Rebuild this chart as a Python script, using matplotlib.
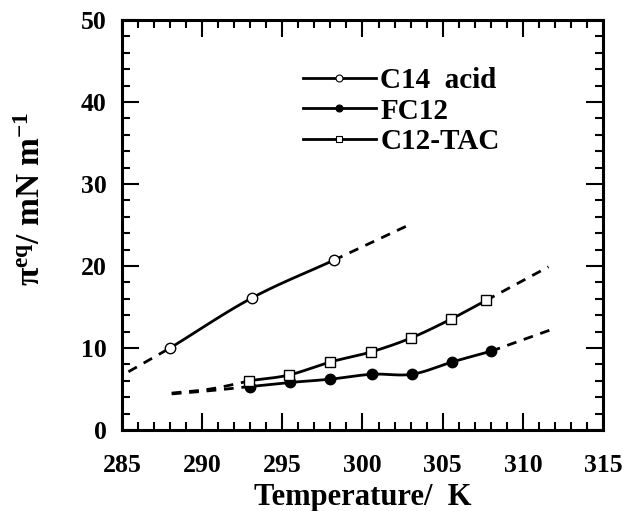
import numpy as np
import matplotlib
matplotlib.use("Agg")
import matplotlib.pyplot as plt
from matplotlib.ticker import MultipleLocator

# measured points
c14_T = [288.0, 293.1, 298.2]
c14_pi = [10.0, 16.1, 20.7]
fc12_T = [293.0, 295.5, 298.0, 300.6, 303.1, 305.6, 308.0]
fc12_pi = [5.3, 5.8, 6.2, 6.8, 6.8, 8.3, 9.6]
tac_T = [292.9, 295.4, 298.0, 300.5, 303.0, 305.5, 307.7]
tac_pi = [6.0, 6.7, 8.3, 9.5, 11.2, 13.5, 15.8]

# dashed extrapolations
c14_lo_T = [285.4, 288.0]
c14_lo_pi = [7.1, 10.0]
c14_hi_T = [298.2, 303.0]
c14_hi_pi = [20.7, 25.1]
fc12_lo_T = [288.1, 290.5, 293.0]
fc12_lo_pi = [4.4, 4.8, 5.3]
fc12_hi_T = [308.0, 312.0]
fc12_hi_pi = [9.6, 12.4]
tac_lo_T = [288.1, 290.5, 293.0]
tac_lo_pi = [4.5, 5.0, 6.0]
tac_hi_T = [307.7, 311.6]
tac_hi_pi = [15.8, 19.9]

labels = ["C14  acid", "FC12", "C12-TAC"]


def smooth(x, y, n=25):
    """Catmull-Rom curve through the given points."""
    p = np.column_stack([x, y]).astype(float)
    if len(p) < 3:
        return p[:, 0], p[:, 1]
    p = np.vstack([2 * p[0] - p[1], p, 2 * p[-1] - p[-2]])
    out = []
    t = np.linspace(0, 1, n)[:, None]
    for i in range(1, len(p) - 2):
        p0, p1, p2, p3 = p[i - 1], p[i], p[i + 1], p[i + 2]
        seg = 0.5 * ((2 * p1) + (-p0 + p2) * t + (2 * p0 - 5 * p1 + 4 * p2 - p3) * t ** 2
                     + (-p0 + 3 * p1 - 3 * p2 + p3) * t ** 3)
        out.append(seg if i == 1 else seg[1:])
    out = np.vstack(out)
    return out[:, 0], out[:, 1]


plt.rcParams['font.family'] = 'Liberation Serif'
plt.rcParams['font.weight'] = 'bold'
plt.rcParams['mathtext.fontset'] = 'custom'
plt.rcParams['mathtext.rm'] = 'Liberation Serif:bold'
plt.rcParams['mathtext.it'] = 'Liberation Serif:bold'
plt.rcParams['mathtext.bf'] = 'Liberation Serif:bold'

fig = plt.figure(figsize=(6.28, 5.11), dpi=100)
ax = fig.add_axes([122 / 628, 1 - 430 / 511, 481 / 628, 410 / 511])

lw = 2.0
dash = dict(color='black', lw=lw, ls=(0, (3.5, 2.8)))

series = [
    (c14_T, c14_pi, 'o', 'white', [(c14_lo_T, c14_lo_pi), (c14_hi_T, c14_hi_pi)]),
    (fc12_T, fc12_pi, 'o', 'black', [(fc12_lo_T, fc12_lo_pi), (fc12_hi_T, fc12_hi_pi)]),
    (tac_T, tac_pi, 's', 'white', [(tac_lo_T, tac_lo_pi), (tac_hi_T, tac_hi_pi)]),
]

handles = []
for (T, pi, mk, fc, fits), lab in zip(series, labels):
    for fT, fpi in fits:
        sx, sy = smooth(fT, fpi)
        ax.plot(sx, sy, **dash)
    sx, sy = smooth(T, pi)
    ax.plot(sx, sy, color='black', lw=lw, zorder=3)
    ax.plot(T, pi, ls='none', marker=mk, ms=7.5 if mk == 'o' else 7,
            mfc=fc, mec='black', mew=1.0, zorder=4)
    h, = ax.plot([], [], color='black', lw=lw, marker=mk, ms=5,
                 mfc=fc, mec='black', mew=0.8, label=lab)
    handles.append(h)

ax.set_xlim(285, 315)
ax.set_ylim(0, 50)
ax.xaxis.set_major_locator(MultipleLocator(5))
ax.xaxis.set_minor_locator(MultipleLocator(1))
ax.yaxis.set_major_locator(MultipleLocator(10))
ax.yaxis.set_minor_locator(MultipleLocator(2))
ax.tick_params(which='both', direction='in', top=True, right=True, width=1.5)
ax.tick_params(which='major', length=12)
ax.tick_params(which='minor', length=6)
ax.tick_params(axis='x', which='major', pad=17, labelsize=18.5)
ax.tick_params(axis='y', which='major', pad=11, labelsize=18.5)
for s in ax.spines.values():
    s.set_linewidth(2.2)

ax.set_xlabel('Temperature/  K', fontsize=22, fontweight='bold')
ax.xaxis.set_label_coords(0.5, -0.13)
ax.set_ylabel('π$^{\\mathrm{eq}}$/ mN m$^{\\mathrm{-1}}$', fontsize=24, fontweight='bold')
ax.yaxis.set_label_coords(-0.155, 0.565)

ax.legend(handles=handles, loc='upper left', bbox_to_anchor=(0.376, 0.885),
          frameon=False, handlelength=2.5, handletextpad=0.15,
          labelspacing=0.12, borderpad=0, borderaxespad=0,
          prop={'family': 'Liberation Serif', 'weight': 'bold', 'size': 21})

fig.savefig('out.png', dpi=100)
